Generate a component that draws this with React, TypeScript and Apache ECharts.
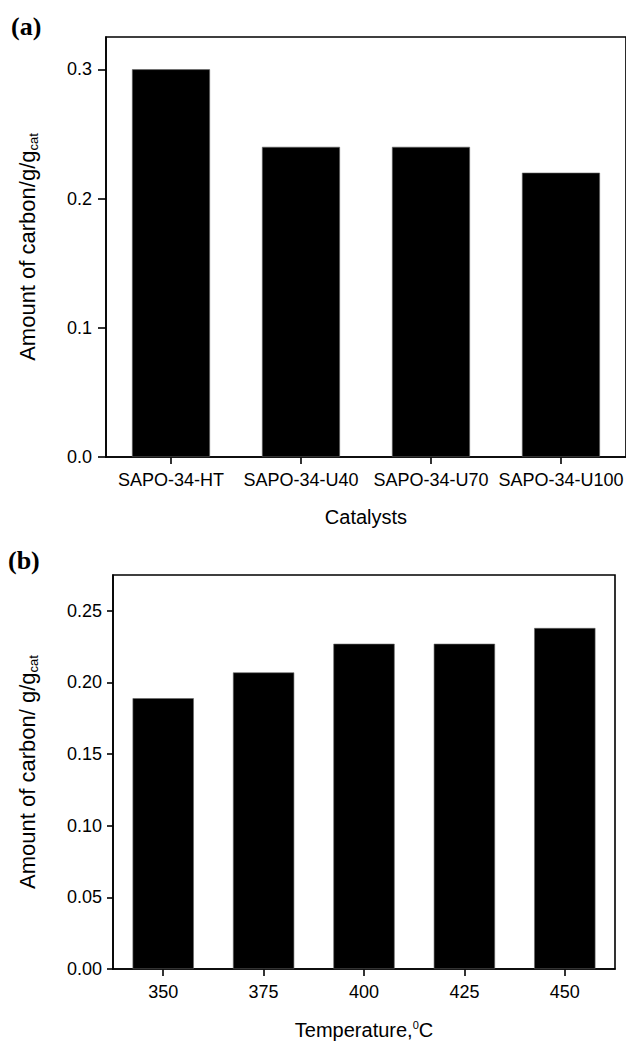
import React, { useEffect, useRef } from "react";
import * as echarts from "echarts";

const catalysts = ["SAPO-34-HT", "SAPO-34-U40", "SAPO-34-U70", "SAPO-34-U100"];
const carbonByCatalyst = [0.3, 0.24, 0.24, 0.22];
const temperatures = ["350", "375", "400", "425", "450"];
const carbonByTemperature = [0.189, 0.207, 0.227, 0.227, 0.238];
const ticksA = [0, 0.1, 0.2, 0.3];
const ticksB = [0, 0.05, 0.1, 0.15, 0.2, 0.25];

export default function App() {
  const ref = useRef<HTMLDivElement>(null);
  useEffect(() => {
    const chart = echarts.init(ref.current!, null, { renderer: "svg" });
    const font = "'Liberation Sans', Arial, sans-serif";
    const line = { color: "#000", width: 1.6 };
    const axisLine = { show: true, onZero: false, lineStyle: line };
    const yName = {
      fontSize: 22,
      fontFamily: font,
      color: "#000",
      lineHeight: 26,
      rich: {
        sub: { fontSize: 13, lineHeight: 13, verticalAlign: "bottom", fontFamily: font, color: "#000" },
      },
    };
    chart.setOption({
      animation: false,
      backgroundColor: "#fff",
      textStyle: { fontFamily: font },
      grid: [
        { left: 106, top: 37, width: 524, height: 420, show: true, borderColor: "#000", borderWidth: 1.6, backgroundColor: "transparent" },
        { left: 113, top: 575, width: 502, height: 394, show: true, borderColor: "#000", borderWidth: 1.6, backgroundColor: "transparent" },
      ],
      xAxis: [
        {
          type: "category",
          gridIndex: 0,
          data: catalysts,
          axisLine,
          axisTick: { show: true, alignWithLabel: true, length: 7, lineStyle: line },
          axisLabel: { fontSize: 18, color: "#000", margin: 14, fontFamily: font, interval: 0 },
          name: "Catalysts",
          nameLocation: "middle",
          nameGap: 50,
          nameTextStyle: { fontSize: 20, color: "#000", fontFamily: font },
        },
        {
          type: "category",
          gridIndex: 1,
          data: temperatures,
          axisLine,
          axisTick: { show: true, alignWithLabel: true, length: 7, lineStyle: line },
          axisLabel: { fontSize: 18, color: "#000", margin: 14, fontFamily: font, interval: 0 },
          name: "Temperature,{sup|0}C",
          nameLocation: "middle",
          nameGap: 50,
          nameTextStyle: {
            fontSize: 20,
            color: "#000",
            fontFamily: font,
            lineHeight: 22,
            rich: { sup: { fontSize: 11, lineHeight: 11, verticalAlign: "top", fontFamily: font, color: "#000" } },
          },
        },
      ],
      yAxis: [
        {
          type: "value",
          gridIndex: 0,
          min: 0,
          max: 0.325,
          interval: 0.1,
          axisLine,
          splitLine: { show: false },
          axisTick: { show: true, length: 8, lineStyle: line, customValues: ticksA },
          axisLabel: {
            fontSize: 18,
            color: "#000",
            margin: 14,
            fontFamily: font,
            customValues: ticksA,
            formatter: (v: number) => v.toFixed(1),
          },
          name: "Amount of carbon/g/g{sub|cat}",
          nameLocation: "middle",
          nameGap: 66,
          nameTextStyle: yName,
        },
        {
          type: "value",
          gridIndex: 1,
          min: 0,
          max: 0.275,
          interval: 0.05,
          axisLine,
          splitLine: { show: false },
          axisTick: { show: true, length: 6, lineStyle: line, customValues: ticksB },
          axisLabel: {
            fontSize: 18,
            color: "#000",
            margin: 11,
            fontFamily: font,
            customValues: ticksB,
            formatter: (v: number) => v.toFixed(2),
          },
          name: "Amount of carbon/ g/g{sub|cat}",
          nameLocation: "middle",
          nameGap: 73,
          nameTextStyle: yName,
        },
      ],
      series: [
        {
          type: "bar",
          xAxisIndex: 0,
          yAxisIndex: 0,
          data: carbonByCatalyst,
          barWidth: "60%",
          itemStyle: { color: "#000", borderColor: "#666", borderWidth: 0.6 },
        },
        {
          type: "bar",
          xAxisIndex: 1,
          yAxisIndex: 1,
          data: carbonByTemperature,
          barWidth: "61%",
          itemStyle: { color: "#000", borderColor: "#666", borderWidth: 0.6 },
        },
      ],
      graphic: [
        { type: "text", left: 11, top: 13, style: { text: "(a)", font: "bold 26px 'Liberation Serif', 'Times New Roman', serif", fill: "#000" } },
        { type: "text", left: 8, top: 547, style: { text: "(b)", font: "bold 26px 'Liberation Serif', 'Times New Roman', serif", fill: "#000" } },
      ],
    });
    return () => chart.dispose();
  }, []);
  return (
    <div
      ref={ref}
      style={{ position: "absolute", left: 0, top: 0, width: 626, height: 1042, background: "#fff" }}
    />
  );
}
